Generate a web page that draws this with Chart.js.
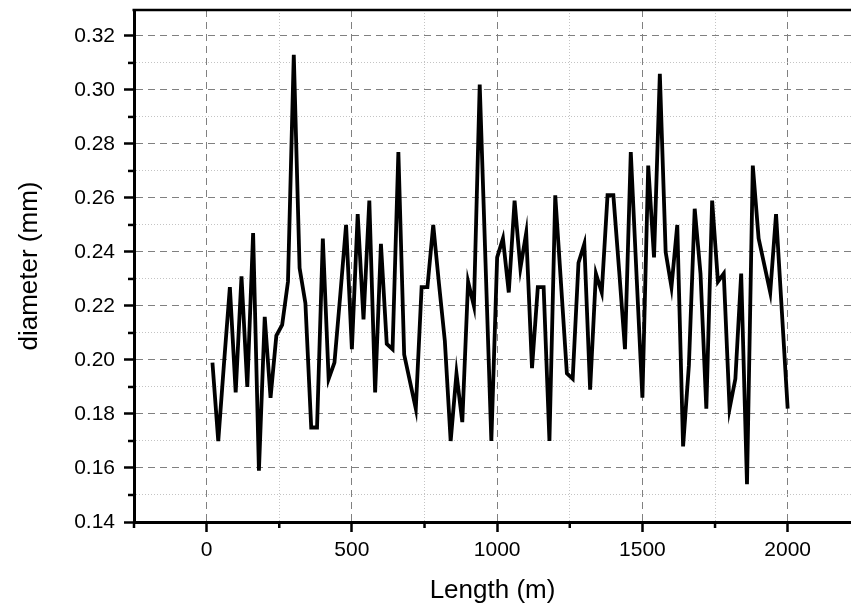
<!DOCTYPE html>
<html>
<head>
<meta charset="utf-8">
<title>diameter vs length</title>
<script src="https://cdn.jsdelivr.net/npm/chart.js@4.4.1/dist/chart.umd.min.js"></script>
<style>
  html, body { margin: 0; padding: 0; background: #fff; overflow: hidden; }
</style>
</head>
<body>
<canvas id="diameterChart" width="851" height="611"></canvas>
<script>
// measured positions along the wire (m)
var lengths = [
  20, 40, 60, 80, 100, 120, 140, 160, 180, 200,
  220, 240, 260, 280, 300, 320, 340, 360, 380, 400,
  420, 440, 460, 480, 500, 520, 540, 560, 580, 600,
  620, 640, 660, 680, 700, 720, 740, 760, 780, 800,
  820, 840, 860, 880, 900, 920, 940, 960, 980, 1000,
  1020, 1040, 1060, 1080, 1100, 1120, 1140, 1160, 1180, 1200,
  1220, 1240, 1260, 1280, 1300, 1320, 1340, 1360, 1380, 1400,
  1420, 1440, 1460, 1480, 1500, 1520, 1540, 1560, 1580, 1600,
  1620, 1640, 1660, 1680, 1700, 1720, 1740, 1760, 1780, 1800,
  1820, 1840, 1860, 1880, 1900, 1920, 1940, 1960, 1980, 2000
];

// diameter at each position (mm)
var diameters = [
  0.199, 0.170, 0.199, 0.227, 0.188, 0.231, 0.190, 0.247, 0.159, 0.216,
  0.186, 0.209, 0.213, 0.229, 0.313, 0.234, 0.221, 0.175, 0.175, 0.245,
  0.193, 0.199, 0.224, 0.250, 0.204, 0.254, 0.215, 0.259, 0.188, 0.243,
  0.206, 0.204, 0.277, 0.202, 0.192, 0.182, 0.227, 0.227, 0.250, 0.228,
  0.207, 0.170, 0.195, 0.177, 0.229, 0.220, 0.302, 0.236, 0.170, 0.238,
  0.245, 0.225, 0.259, 0.234, 0.247, 0.197, 0.227, 0.227, 0.170, 0.261,
  0.228, 0.195, 0.193, 0.236, 0.243, 0.189, 0.232, 0.225, 0.261, 0.261,
  0.233, 0.204, 0.277, 0.231, 0.186, 0.272, 0.238, 0.306, 0.240, 0.227,
  0.250, 0.168, 0.198, 0.256, 0.232, 0.182, 0.259, 0.229, 0.232, 0.182,
  0.193, 0.232, 0.154, 0.272, 0.245, 0.235, 0.225, 0.254, 0.218, 0.182
];

// axis ticks; an empty label marks a minor tick
var xTickValues = [-250, 0, 250, 500, 750, 1000, 1250, 1500, 1750, 2000];
var xTickLabels = ["", "0", "", "500", "", "1000", "", "1500", "", "2000"];
var yTickValues = [0.14, 0.15, 0.16, 0.17, 0.18, 0.19, 0.20, 0.21, 0.22, 0.23,
                   0.24, 0.25, 0.26, 0.27, 0.28, 0.29, 0.30, 0.31, 0.32];
var yTickLabels = ["0.14", "", "0.16", "", "0.18", "", "0.20", "", "0.22", "",
                   "0.24", "", "0.26", "", "0.28", "", "0.30", "", "0.32"];

var FONT = "'Liberation Sans', Arial, Helvetica, sans-serif";

function isMajor(labels, ctx) {
  return ctx.index !== undefined && labels[ctx.index] !== "";
}

// grid line look: dashed for major, dotted for minor, hidden on the axis itself
function gridColor(labels) {
  return function (ctx) {
    if (ctx.index === undefined || ctx.index === 0) return "rgba(0,0,0,0)";
    return isMajor(labels, ctx) ? "#808080" : "#c4c4c4";
  };
}
function gridDash(labels) {
  return function (ctx) {
    return isMajor(labels, ctx) ? [7, 5] : [1, 2];
  };
}
function tickColor(labels) {
  return function (ctx) {
    return isMajor(labels, ctx) ? "#000" : "rgba(0,0,0,0)";
  };
}

// top frame line and short minor tick marks
var frameAndMinorTicks = {
  id: "frameAndMinorTicks",
  afterDraw: function (chart) {
    var ctx = chart.ctx;
    var area = chart.chartArea;
    var xs = chart.scales.x;
    var ys = chart.scales.y;
    ctx.save();
    ctx.strokeStyle = "#000";
    ctx.lineWidth = 2.5;
    ctx.beginPath();
    ctx.moveTo(area.left - 1.5, area.top);
    ctx.lineTo(area.right, area.top);
    ctx.stroke();

    xTickValues.forEach(function (v, i) {
      if (xTickLabels[i] !== "") return;
      var px = xs.getPixelForValue(v);
      ctx.beginPath();
      ctx.moveTo(px, area.bottom);
      ctx.lineTo(px, area.bottom + 6);
      ctx.stroke();
    });
    yTickValues.forEach(function (v, i) {
      if (yTickLabels[i] !== "") return;
      var py = ys.getPixelForValue(v);
      ctx.beginPath();
      ctx.moveTo(area.left, py);
      ctx.lineTo(area.left - 6, py);
      ctx.stroke();
    });
    ctx.restore();
  }
};

var points = lengths.map(function (len, i) {
  return { x: len, y: diameters[i] };
});

var ctx = document.getElementById("diameterChart").getContext("2d");
var diameterChart = new Chart(ctx, {
  type: "line",
  data: {
    datasets: [
      {
        label: "diameter",
        data: points,
        borderColor: "#000",
        borderWidth: 3.8,
        pointRadius: 0,
        tension: 0,
        fill: false
      }
    ]
  },
  options: {
    responsive: false,
    animation: false,
    layout: { padding: { top: 10, left: 0, right: 0, bottom: 0 } },
    plugins: {
      legend: { display: false },
      tooltip: { enabled: false }
    },
    scales: {
      x: {
        type: "linear",
        min: -250,
        max: 2218,
        afterBuildTicks: function (scale) {
          scale.ticks = xTickValues.map(function (v) { return { value: v }; });
        },
        afterFit: function (scale) {
          scale.height = 89;
          scale.paddingLeft = 0;
          scale.paddingRight = 0;
        },
        grid: {
          color: gridColor(xTickLabels),
          lineWidth: 1,
          tickLength: 10,
          tickWidth: 2.5,
          tickColor: tickColor(xTickLabels)
        },
        border: { color: "#000", width: 3, dash: gridDash(xTickLabels) },
        ticks: {
          autoSkip: false,
          maxRotation: 0,
          padding: 6,
          color: "#000",
          font: { family: FONT, size: 21 },
          callback: function (value, index) { return xTickLabels[index]; }
        },
        title: {
          display: true,
          text: "Length (m)",
          color: "#000",
          font: { family: FONT, size: 26 },
          padding: { top: 0, bottom: 5 }
        }
      },
      y: {
        type: "linear",
        min: 0.14,
        max: 0.3296,
        afterBuildTicks: function (scale) {
          scale.ticks = yTickValues.map(function (v) { return { value: v }; });
        },
        afterFit: function (scale) {
          scale.width = 134;
          scale.paddingTop = 0;
          scale.paddingBottom = 0;
        },
        grid: {
          color: gridColor(yTickLabels),
          lineWidth: 1,
          tickLength: 10,
          tickWidth: 2.5,
          tickColor: tickColor(yTickLabels)
        },
        border: { color: "#000", width: 3, dash: gridDash(yTickLabels) },
        ticks: {
          autoSkip: false,
          padding: 9,
          color: "#000",
          font: { family: FONT, size: 21 },
          callback: function (value, index) { return yTickLabels[index]; }
        },
        title: {
          display: true,
          text: "diameter (mm)",
          color: "#000",
          font: { family: FONT, size: 26 },
          padding: { top: 14, bottom: 0 }
        }
      }
    }
  },
  plugins: [frameAndMinorTicks]
});
</script>
</body>
</html>
